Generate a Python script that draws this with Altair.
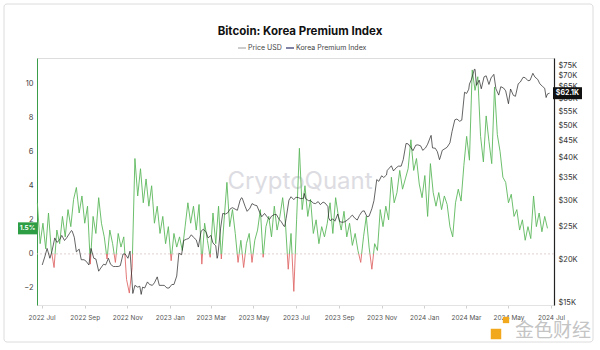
import altair as alt
import pandas as pd

# ---------------- data ----------------
premium_start = "2022-06-25"      # Korea Premium Index, one value every 4 days
premium_step_days = 4
premium = [
    3.0, 0.6, 1.8, 0.3, 2.4, 0.2, -0.8, 1.4, 0.6, 2.2,
    1.0, 2.6, 1.6, 3.2, 3.9, 2.4, 3.4, 1.8, 2.8, -0.6,
    2.2, 1.2, 3.3, 1.8, 1.0, -0.3, 1.4, 0.6, -0.5, 1.2,
    0.4, 1.0, -1.5, -2.3, -0.8, 5.6, 3.4, 5.0, 3.0, 4.4,
    2.8, 4.0, 1.8, 2.8, 1.2, 2.2, 0.6, 1.6, -0.4, 1.2,
    0.4, 1.0, 0.2, 1.6, 3.0, 1.8, 2.8, 1.4, 2.9, -0.6,
    1.8, 0.8, -0.2, 2.4, 0.6, 2.8, -0.3, 2.0, 4.2, 1.6,
    2.6, 1.2, -0.5, 0.8, -0.8, 0.6, 1.2, -0.5, 0.8, 1.4,
    2.6, -0.2, 1.6, 2.2, 1.0, 2.8, 1.4, 2.2, 3.3, 1.8,
    -0.9, 1.2, -2.2, 2.0, 6.2, 2.6, 4.0, 2.2, 3.2, 1.2,
    2.0, 0.6, 1.6, 1.0, 1.8, 3.0, 1.2, 3.3, 2.2, 1.4,
    2.5, 1.0, 1.8, 0.5, 1.2, 0.2, -0.5, 1.0, 2.2, 0.4,
    -0.9, 0.6, 0.2, 2.6, 1.6, 2.8, 2.0, 4.5, 3.0, 3.6,
    4.9, 3.8, 4.4, 5.0, 6.7, 4.9, 5.6, 4.1, 3.3, 4.6,
    2.2, 5.3, 3.6, 2.8, 3.6, 2.6, 3.4, 2.9, 1.6, 1.0,
    3.0, 3.8, 3.1, 5.2, 6.9, 5.5, 10.8, 9.6, 10.4, 6.9,
    5.4, 8.1, 6.6, 5.3, 9.8, 7.0, 6.0, 4.5, 4.2, 3.0,
    3.5, 2.2, 2.6, 1.4, 2.0, 0.8, 1.6, 0.9, 3.4, 1.6,
    2.4, 1.3, 2.2, 1.5,
]

price_start = "2022-07-02"        # BTC price (thousand USD), Saturdays
price_weekly = [
    19.3, 21.6, 21.2, 22.5, 23.6, 23.2, 24.4, 21.1, 20.0, 19.8,
    21.6, 20.1, 18.9, 19.3, 19.4, 19.1, 19.2, 20.8, 21.2, 16.8,
    16.7, 16.5, 16.9, 17.1, 16.8, 16.8, 16.5,
    16.9, 20.9, 22.8, 23.1, 23.3, 21.8, 24.6, 23.2, 22.4, 20.6,
    27.4, 27.5, 28.5, 28.0, 30.4, 27.8, 29.3, 28.9, 26.8, 26.9,
    26.9, 27.2, 25.9, 26.5, 30.7, 30.6, 30.3, 30.3, 29.9, 29.3,
    29.1, 29.4, 26.1, 26.0, 25.9, 25.9, 26.6, 26.6, 27.0, 27.9,
    26.9, 29.9, 34.1, 35.0, 37.1, 36.6, 37.8, 39.5, 44.0, 42.0,
    43.7, 42.1,
    43.9, 42.8, 41.7, 42.1, 43.0, 47.8, 52.1, 51.7, 62.0, 68.3,
    65.5, 64.0, 69.9, 68.9, 64.0, 64.9, 63.1, 63.9, 60.8, 67.0,
    69.0, 67.8, 69.3, 66.2, 64.2, 62.1,
]
midweek_start = "2022-07-06"      # BTC price (thousand USD), Wednesdays
price_midweek = [
    20.5, 20.2, 23.2, 22.9, 22.8, 23.9, 23.3, 21.5, 20.0, 19.3,
    20.2, 18.5, 19.4, 20.2, 19.1, 19.1, 20.8, 20.2, 15.9, 16.6,
    16.6, 17.2, 16.8, 17.8, 16.8, 16.5,
    16.9, 17.9, 20.7, 23.0, 23.7, 22.9, 24.3, 24.2, 23.6, 22.0,
    24.8, 27.3, 28.3, 28.2, 30.0, 28.8, 28.4, 29.0, 27.6, 27.4,
    26.3, 27.2, 26.3, 25.1, 30.0, 30.1, 30.5, 30.4, 29.9, 29.4,
    29.7, 29.6, 28.7, 26.4, 27.3, 25.8, 26.2, 27.1, 26.2, 27.8,
    26.8, 28.3, 34.5, 35.4, 35.6, 37.9, 37.4, 37.8, 44.1, 42.9,
    43.6, 43.4,
    42.8, 46.1, 42.7, 40.0, 42.6, 44.3, 51.8, 51.3, 62.5, 66.1,
    73.0, 67.9, 69.4, 65.9, 70.6, 61.3, 64.3, 57.8, 61.2, 66.2,
    69.2, 67.6, 71.1, 68.2, 65.0, 61.8,
]
extra_price_dates = ["2022-08-14", "2022-11-21", "2023-03-10", "2023-04-14",
                     "2023-06-15", "2023-07-13", "2023-08-17", "2023-11-09",
                     "2024-01-11", "2024-01-23", "2024-03-05", "2024-03-14",
                     "2024-06-24"]
extra_price_vals = [24.3, 15.8, 20.2, 30.5, 25.1, 31.4, 26.6, 36.7,
                    46.6, 39.5, 63.8, 73.1, 60.3]

left_ticks = [-2, 0, 2, 4, 6, 8, 10]
right_ticks = [15, 20, 25, 30, 35, 40, 45, 50, 55, 60, 65, 70, 75]

# ---------------- styling ----------------
W, H = 517, 247
GREEN = "#5cb85c"
RED = "#e06a6a"
FONT = "Inter"

# ---------------- frames ----------------
pdates = pd.date_range(premium_start, periods=len(premium), freq=f"{premium_step_days}D")


def sgn(v):
    return "pos" if v >= 0 else "neg"


rows = []
seg = 0
for i, (d, v) in enumerate(zip(pdates, premium)):
    rows.append((d, v, seg, sgn(v)))
    if i < len(premium) - 1:
        v2 = premium[i + 1]
        if (v >= 0) != (v2 >= 0):
            t = v / (v - v2)
            dc = d + (pdates[i + 1] - d) * t
            rows.append((dc, 0.0, seg, sgn(v)))
            seg += 1
            rows.append((dc, 0.0, seg, sgn(v2)))
prem_df = pd.DataFrame(rows, columns=["date", "v", "seg", "sign"])
prem_last = pd.DataFrame({"date": [pdates[-1]], "v": [premium[-1]],
                          "label": [f"{premium[-1]}%"]})

wdates = pd.date_range(price_start, periods=len(price_weekly), freq="7D")
mdates = pd.date_range(midweek_start, periods=len(price_midweek), freq="7D")
price_df = pd.concat([
    pd.DataFrame({"date": wdates, "p": price_weekly}),
    pd.DataFrame({"date": mdates, "p": price_midweek}),
    pd.DataFrame({"date": pd.to_datetime(extra_price_dates), "p": extra_price_vals}),
]).sort_values("date").reset_index(drop=True)
price_last = pd.DataFrame({"date": [wdates[-1]], "p": [price_weekly[-1]],
                           "label": [f"${price_weekly[-1]:.1f}K"]})

dummy = pd.DataFrame({"a": [0]})

# ---------------- encodings ----------------
X = alt.X("date:T",
          scale=alt.Scale(domain=[alt.DateTime(year=2022, month=6, date=24, hours=12),
                                  alt.DateTime(year=2024, month=7, date=5, hours=8)]),
          axis=alt.Axis(format="%Y %b", tickCount={"interval": "month", "step": 2},
                        title=None, grid=False, labelFontSize=6.5, labelColor="#555",
                        domainColor="#e3e3e3", tickColor="#d0d0d0", tickSize=3,
                        labelPadding=6, labelFont=FONT, labelOverlap=False))

left_axis = alt.Axis(orient="left", values=left_ticks, title=None, ticks=False,
                     domainColor="#3a9d4a", domainWidth=1, labelFontSize=7.5,
                     labelColor="#444", labelPadding=4, gridColor="#eeeeee",
                     labelFont=FONT)
YP = alt.Y("v:Q", scale=alt.Scale(domain=[-3, 11.5], nice=False, zero=False), axis=left_axis)

right_axis = alt.Axis(orient="right", values=right_ticks, title=None, ticks=False,
                      domainColor="#222", domainWidth=1.2, labelFontSize=7.5,
                      labelColor="#333", labelPadding=4, grid=False,
                      labelExpr="'$' + datum.value + 'K'", labelFont=FONT)
YR = alt.Y("p:Q", scale=alt.Scale(type="log", domain=[14.7, 78.9], nice=False), axis=right_axis)

# ---------------- layers ----------------
border = alt.Chart(dummy).mark_rect(filled=False, stroke="#dcdcdc", strokeWidth=1,
                                    cornerRadius=3).encode(
    x=alt.value(-33), x2=alt.value(556), y=alt.value(-54), y2=alt.value(284))

watermark = alt.Chart(dummy).mark_text(text="CryptoQuant", font=FONT, fontSize=24,
                                       color="#dcdce2", align="center",
                                       baseline="middle").encode(
    x=alt.value(263), y=alt.value(124))

zero = alt.Chart(dummy).mark_rule(color="#d8c4c4", strokeDash=[2, 2],
                                  strokeWidth=0.8).encode(y=alt.datum(0))

prem_line = alt.Chart(prem_df).mark_line(strokeWidth=0.9, interpolate="linear").encode(
    x=X, y=YP,
    color=alt.Color("sign:N", scale=alt.Scale(domain=["pos", "neg"], range=[GREEN, RED]),
                    legend=None),
    detail="seg:N")

rect_green = "M-1.5,-0.95L1.5,-0.95L1.5,0.95L-1.5,0.95Z"
prem_box = alt.Chart(prem_last).mark_point(shape=rect_green, filled=True, size=160,
                                           color="#2e9e44", opacity=1).encode(
    x=alt.value(-9.5), y=YP)
prem_lbl = alt.Chart(prem_last).mark_text(color="white", fontSize=6.5, fontWeight="bold",
                                          font=FONT, align="center",
                                          baseline="middle").encode(
    x=alt.value(-9.5), y=YP, text="label:N")

premium_layer = alt.layer(zero, prem_line, prem_box, prem_lbl)

price_line = alt.Chart(price_df).mark_line(color="#222", strokeWidth=0.7).encode(x=X, y=YR)
rect_black = "M-1.5,-0.62L1.5,-0.62L1.5,0.62L-1.5,0.62Z"
price_box = alt.Chart(price_last).mark_point(shape=rect_black, filled=True, size=373,
                                             color="#111", opacity=1).encode(
    x=alt.value(W + 13.5), y=YR)
price_lbl = alt.Chart(price_last).mark_text(color="white", fontSize=7, fontWeight="bold",
                                            font=FONT, align="center",
                                            baseline="middle").encode(
    x=alt.value(W + 13.5), y=YR, text="label:N")

price_layer = alt.layer(price_line, price_box, price_lbl)

title = alt.Chart(dummy).mark_text(text="Bitcoin: Korea Premium Index", font=FONT,
                                   fontSize=11.5, fontWeight="bold", color="#111",
                                   align="center", baseline="middle").encode(
    x=alt.value(263), y=alt.value(-26))
leg_line1 = alt.Chart(dummy).mark_rule(color="#9a9a9a", strokeWidth=1).encode(
    x=alt.value(201), x2=alt.value(209), y=alt.value(-10))
leg_text1 = alt.Chart(dummy).mark_text(text="Price USD", font=FONT, fontSize=7,
                                       color="#444", align="left",
                                       baseline="middle").encode(
    x=alt.value(211), y=alt.value(-10))
leg_line2 = alt.Chart(dummy).mark_rule(color="#2d2f6b", strokeWidth=1.2).encode(
    x=alt.value(249), x2=alt.value(257), y=alt.value(-10))
leg_text2 = alt.Chart(dummy).mark_text(text="Korea Premium Index", font=FONT, fontSize=7,
                                       color="#444", align="left",
                                       baseline="middle").encode(
    x=alt.value(259), y=alt.value(-10))

logo1 = alt.Chart(dummy).mark_point(shape="square", filled=True, size=110,
                                    color="#f2a81d", opacity=1).encode(
    x=alt.value(459), y=alt.value(276))
logo2 = alt.Chart(dummy).mark_point(shape="square", filled=True, size=40,
                                    color="#f2a81d", opacity=1).encode(
    x=alt.value(469), y=alt.value(262))
jinse = alt.Chart(dummy).mark_text(text="金色财经", font="Noto Sans CJK SC", fontSize=19,
                                   color="#c4c4c4", align="center",
                                   baseline="middle").encode(
    x=alt.value(516), y=alt.value(273))

chart = alt.layer(
    border, watermark, premium_layer, price_layer,
    title, leg_line1, leg_text1, leg_line2, leg_text2, logo1, logo2, jinse,
).resolve_scale(y="independent").properties(
    width=W, height=H,
    autosize=alt.AutoSizeParams(type="none"),
    padding={"left": 37, "top": 58, "right": 46, "bottom": 45},
    background="white",
).configure_view(stroke=None).configure(font=FONT)

chart.save("out.html", embed_options={"renderer": "svg", "actions": False})
